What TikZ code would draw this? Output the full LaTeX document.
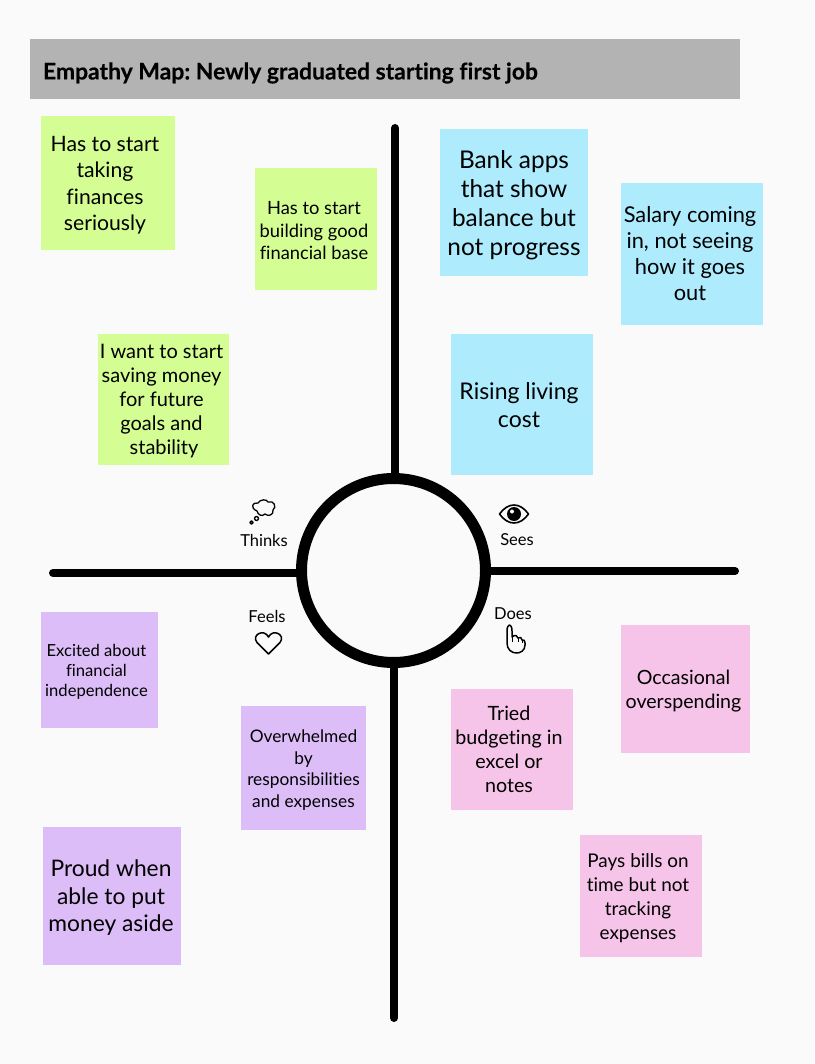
\documentclass[tikz,border=0pt]{standalone}
\usepackage{fontspec}
\setmainfont[Ligatures=CommonOff, BoldFeatures={FakeBold=0.3}]{Lato}
\frenchspacing
\definecolor{pagebg}{HTML}{FAFAFA}
\definecolor{barcol}{HTML}{B3B3B3}
\definecolor{greennote}{HTML}{D4FE94}
\definecolor{bluenote}{HTML}{AEEBFD}
\definecolor{purplenote}{HTML}{DDBDF8}
\definecolor{pinknote}{HTML}{F5C4E8}
\tikzset{
	stick/.style 2 args={minimum width=#1, minimum height=#2, inner sep=0pt},
	lines/.style 2 args={inner sep=0pt, align=center, text=black, font=\fontsize{#1}{#2}\selectfont},
	axis/.style={line width=8pt, line cap=round},
	tag/.style={font=\fontsize{16.5}{20}\selectfont, inner sep=0pt},
	iconline/.style={line width=1.3pt, line join=round}
}

\begin{document}
\begin{tikzpicture}[x=1pt,y=-1pt]
	\useasboundingbox[fill=pagebg] (0,0) rectangle (814,1064);
	
	% Title bar
	\node[fill=barcol, stick={710pt}{60pt}, label={[anchor=west, xshift=13pt, yshift=-4pt, inner sep=0pt, font=\fontsize{22.9}{26}\selectfont\bfseries]west:Empathy Map: Newly graduated starting first job}] (titlebar) at (385,69) {};
	
	% Centre ring and the free ends of the axes
	\node[draw, circle, line width=11pt, minimum size=184pt, inner sep=0pt] (hub) at (393.5,570.5) {};
	\coordinate (topend) at (395,128);
	\coordinate (leftend) at (53,573);
	\coordinate (rightend) at (735,571);
	\coordinate (bottomend) at (394,1018);
	
	% Connect the ring with the axes
	\draw[axis] (topend) -- (topend |- hub.north);
	\draw[axis] (leftend) -- (leftend -| hub.west);
	\draw[axis] (rightend) -- (rightend -| hub.east);
	\draw[axis] (bottomend) -- (bottomend |- hub.south);
	
	% Thinks
	\node[stick={134pt}{134pt}, fill=greennote, label={[lines={21.2}{26.5}, xshift=-3pt, yshift=-2pt]center:{Has to start\\taking\\finances\\seriously}}] (thinksa) at (108,183) {};
	\node[stick={122pt}{122pt}, fill=greennote, label={[lines={18.3}{22.5}, xshift=-2pt, yshift=-2pt]center:{Has to start\\building good\\financial base}}] (thinksb) at (316,229) {};
	\node[stick={131pt}{131pt}, fill=greennote, label={[lines={20}{24}, xshift=-2pt, yshift=-2pt]center:{I want to start\\saving money\\for future\\goals and\\ \ stability}}] (thinksc) at (163.5,399.5) {};
	
	% Sees
	\node[stick={148pt}{147pt}, fill=bluenote, label={[lines={24.4}{29}, yshift=-3pt]center:{Bank apps\\that show\\balance but\\not progress}}] (seesa) at (514,202.5) {};
	\node[stick={142pt}{142pt}, fill=bluenote, label={[lines={21.8}{26}, xshift=-2pt]center:{Salary coming\\in, not seeing\\how it goes\\out}}] (seesb) at (692,254) {};
	\node[stick={142pt}{141pt}, fill=bluenote, label={[lines={23}{28}, xshift=-3pt, yshift=-1pt]center:{Rising living\\cost}}] (seesc) at (522,404.5) {};
	
	% Feels
	\node[stick={117pt}{116pt}, fill=purplenote, label={[lines={16.6}{20}, xshift=-3pt, yshift=-2pt]center:{Excited about\\financial\\independence}}] (feelsa) at (99.5,670) {};
	\node[stick={125pt}{124pt}, fill=purplenote, label={[lines={17.3}{21.5}, yshift=-2pt]center:{Overwhelmed\\by\\responsibilities\\and expenses}}] (feelsb) at (303.5,768) {};
	\node[stick={138pt}{138pt}, fill=purplenote, label={[lines={22.8}{27.5}, xshift=-1pt, yshift=-2pt]center:{Proud when\\able to put\\money aside}}] (feelsc) at (112,896) {};
	
	% Does
	\node[stick={129pt}{128pt}, fill=pinknote, label={[lines={19.6}{24}, xshift=-2pt, yshift=-2pt]center:{Occasional\\overspending}}] (doesa) at (685.5,689) {};
	\node[stick={122pt}{121pt}, fill=pinknote, label={[lines={19.7}{24}, xshift=-3pt]center:{Tried\\budgeting in\\excel or\\notes}}] (doesb) at (512,749.5) {};
	\node[stick={122pt}{122pt}, fill=pinknote, label={[lines={18.9}{24}, xshift=-3pt, yshift=-2pt]center:{Pays bills on\\time but not\\tracking\\expenses}}] (doesc) at (641,896) {};
	
	% Quadrant labels
	\node[tag] (thinks) at (264,540) {Thinks};
	\node[tag] (sees) at (517,540) {Sees};
	\node[tag] (feels) at (267,616) {Feels};
	\node[tag] (does) at (513,614) {Does};
	
	% Cloud icon
	\draw[iconline] (257,511) .. controls (250,508) and (252,502) .. (258,503)
		.. controls (260,499) and (267,499) .. (268,502)
		.. controls (274,500) and (277,507) .. (273,510)
		.. controls (274,515) and (268,517) .. (265,514)
		.. controls (262,517) and (258,515) .. (257,511) -- cycle;
	\draw[iconline] (256.5,518.5) circle (2pt);
	\draw[iconline] (251.5,522.5) circle (1.6pt);
	
	% Eye icon
	\draw[iconline, line width=1.6pt] (499.5,514) .. controls (508,502) and (520,502) .. (528.5,514)
		.. controls (520,526) and (508,526) .. (499.5,514) -- cycle;
	\fill (514,514) circle (7pt);
	\fill[pagebg] (512,511.5) circle (2pt);
	
	% Heart icon
	\draw[iconline, line width=1.5pt] (268.5,654) -- (257,642.5) .. controls (251,635) and (264,628) .. (268.5,637)
		.. controls (273,628) and (286,635) .. (280,642.5) -- cycle;
	
	% Hand icon
	\draw[iconline, line width=1.5pt] (507,643) -- (507,631) .. controls (507,623) and (512,623) .. (512,631) -- (512,637)
		.. controls (515,634) and (518,636) .. (518,638)
		.. controls (520,636) and (522,638) .. (522,640)
		.. controls (524,639) and (525,641) .. (525,643) -- (525,645)
		.. controls (525,656) and (507,656) .. (507,643) -- cycle;
	\draw[iconline, line width=.9pt] (518,638) -- (518,642) (522,640) -- (522,643) (512,637) -- (512,642);
	
\end{tikzpicture}
\end{document}
